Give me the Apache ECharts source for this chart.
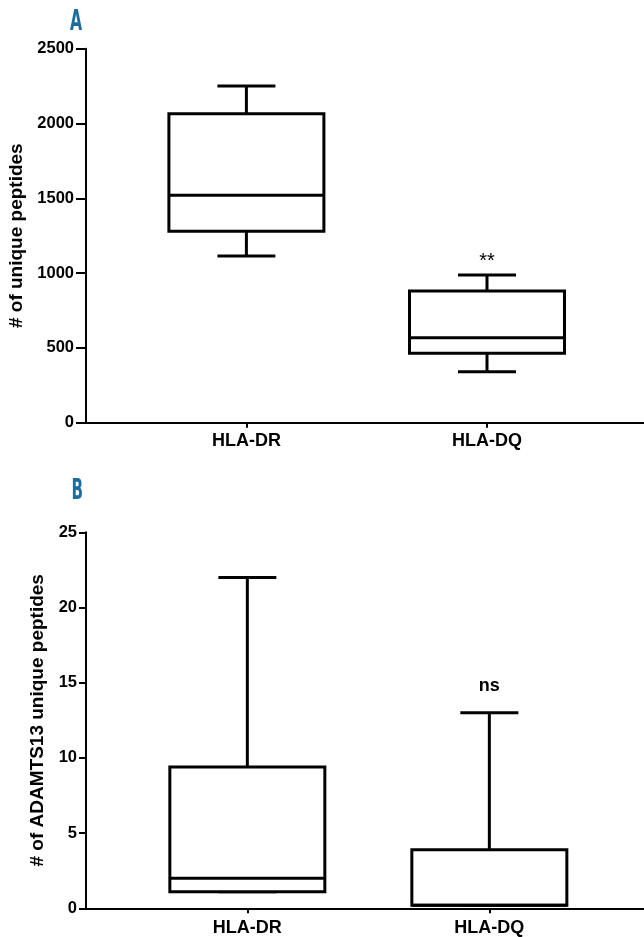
<!DOCTYPE html>
<html>
<head>
<meta charset="utf-8">
<script src="https://cdn.jsdelivr.net/npm/echarts@6/dist/echarts.min.js"></script>
<style>
html,body{margin:0;padding:0;background:#fff;}
#chart{width:644px;height:937px;}
</style>
</head>
<body>
<div id="chart"></div>
<script>
// ---- data ----
const categories = ['HLA-DR', 'HLA-DQ'];
// [min, Q1, median, Q3, max]
const peptidesA = [
  [1115, 1280, 1520, 2065, 2250],
  [340, 465, 568, 880, 988]
];
const adamts13B = [
  [1.1, 1.1, 2, 9.4, 22],
  [0.2, 0.2, 0.2, 3.9, 13]
];
const significanceA = ['', '**'];
const significanceB = ['', 'ns'];
const yTicksA = [0, 500, 1000, 1500, 2000, 2500];
const yTicksB = [0, 5, 10, 15, 20, 25];
const panelLabels = ['A', 'B'];
const yTitles = ['# of unique peptides', '# of ADAMTS13 unique peptides'];

// ---- layout helpers ----
const FONT = '"Liberation Sans", Arial, Helvetica, sans-serif';
const SLOT_COUNT = 8;
const CAT_SLOTS = [2, 5];
const slots = [];
for (let i = 0; i < SLOT_COUNT; i++) {
  const k = CAT_SLOTS.indexOf(i);
  slots.push(k >= 0 ? categories[k] : ' '.repeat(i + 1));
}
function boxData(stats) {
  return stats.map((s, k) => [CAT_SLOTS[k], ...s]);
}
const BOX_W = 155, CAP_W = 58, LW = 3;

function makeRender(sig, sigOffset, sigFont, sigWeight) {
  return function (params, api) {
    const x = api.value(0);
    const v = [1, 2, 3, 4, 5].map(i => api.value(i));
    const p = v.map(val => api.coord([x, val]));
    const cx = p[0][0];
    const yMin = p[0][1], yQ1 = p[1][1], yMed = p[2][1], yQ3 = p[3][1], yMax = p[4][1];
    const st = { stroke: '#000', lineWidth: LW, fill: null, lineCap: 'butt' };
    const children = [
      { type: 'line', shape: { x1: cx, y1: yQ3, x2: cx, y2: yMax }, style: st },
      { type: 'line', shape: { x1: cx, y1: yQ1, x2: cx, y2: yMin }, style: st },
      { type: 'line', shape: { x1: cx - CAP_W / 2, y1: yMax, x2: cx + CAP_W / 2, y2: yMax }, style: st },
      { type: 'line', shape: { x1: cx - CAP_W / 2, y1: yMin, x2: cx + CAP_W / 2, y2: yMin }, style: st },
      { type: 'rect', shape: { x: cx - BOX_W / 2, y: yQ3, width: BOX_W, height: yQ1 - yQ3 },
        style: { stroke: '#000', lineWidth: LW, fill: '#fff' } },
      { type: 'line', shape: { x1: cx - BOX_W / 2, y1: yMed, x2: cx + BOX_W / 2, y2: yMed }, style: st }
    ];
    const label = sig[params.dataIndex];
    if (label) {
      children.push({
        type: 'text',
        style: {
          text: label, x: cx, y: yMax - sigOffset,
          align: 'center', verticalAlign: 'middle',
          font: sigWeight + ' ' + sigFont + 'px ' + FONT, fill: '#000'
        }
      });
    }
    return { type: 'group', children };
  };
}

function xAxisCfg(gridIndex, margin) {
  return {
    type: 'category', gridIndex, data: slots, boundaryGap: false,
    axisLine: { lineStyle: { color: '#000', width: 2 } },
    axisTick: { length: 5, lineStyle: { color: '#000', width: 2 },
      interval: (i, v) => categories.indexOf(v) >= 0 },
    axisLabel: { interval: 0, margin, color: '#000', fontFamily: FONT, fontWeight: 'bold', fontSize: 18,
      formatter: v => (categories.indexOf(v) >= 0 ? v : '') },
    splitLine: { show: false }
  };
}
function yAxisCfg(gridIndex, ticks, name, nameGap, margin, tickLen) {
  return {
    type: 'value', gridIndex,
    min: ticks[0], max: ticks[ticks.length - 1], interval: ticks[1] - ticks[0],
    name, nameLocation: 'middle', nameGap,
    nameTextStyle: { color: '#000', fontFamily: FONT, fontWeight: 'bold', fontSize: 19 },
    axisLine: { show: true, lineStyle: { color: '#000', width: 2 } },
    axisTick: { show: true, length: tickLen, lineStyle: { color: '#000', width: 2 } },
    axisLabel: { margin, color: '#000', fontFamily: FONT, fontWeight: 'bold', fontSize: 16.5,
      formatter: v => String(v) },
    splitLine: { show: false }
  };
}

const chart = echarts.init(document.getElementById('chart'), null, { renderer: 'canvas' });
chart.setOption({
  animation: false,
  backgroundColor: '#fff',
  grid: [
    { left: 86, top: 48.7, height: 374, width: 7 * 80.2, containLabel: false, outerBoundsMode: 'none' },
    { left: 86, top: 532.3, height: 376, width: 7 * 80.67, containLabel: false, outerBoundsMode: 'none' }
  ],
  xAxis: [xAxisCfg(0, 9), xAxisCfg(1, 11)],
  yAxis: [
    yAxisCfg(0, yTicksA, yTitles[0], 53, 12, 10),
    yAxisCfg(1, yTicksB, yTitles[1], 38, 9, 7)
  ],
  graphic: [
    { type: 'text', left: 70, top: 8, scaleX: 0.6,
      style: { text: panelLabels[0], font: 'bold 29px "DejaVu Sans Condensed", "DejaVu Sans", sans-serif', fill: '#1d6d9c' } },
    { type: 'text', left: 71.5, top: 478, scaleX: 0.6,
      style: { text: panelLabels[1], font: 'bold 28px "DejaVu Sans Condensed", "DejaVu Sans", sans-serif', fill: '#1d6d9c' } }
  ],
  series: [
    { type: 'custom', xAxisIndex: 0, yAxisIndex: 0, data: boxData(peptidesA),
      encode: { x: 0, y: [1, 2, 3, 4, 5] },
      renderItem: makeRender(significanceA, 13, 20, 'normal') },
    { type: 'custom', xAxisIndex: 1, yAxisIndex: 1, data: boxData(adamts13B),
      encode: { x: 0, y: [1, 2, 3, 4, 5] },
      renderItem: makeRender(significanceB, 27, 18, 'bold') }
  ]
});
</script>
</body>
</html>
